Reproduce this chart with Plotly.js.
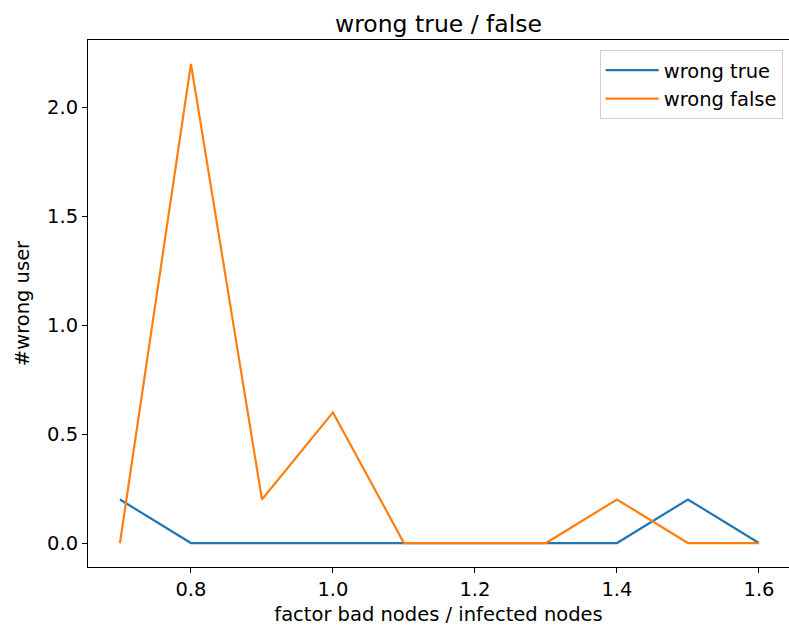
<!DOCTYPE html>
<html>
<head>
<meta charset="utf-8">
<script src="https://cdn.plot.ly/plotly-3.0.1.min.js"></script>
<style>html,body{margin:0;padding:0;background:#fff;}#chart{width:789px;height:634px;}</style>
</head>
<body>
<div id="chart"></div>
<script>
const factors = [0.7, 0.8, 0.9, 1.0, 1.1, 1.2, 1.3, 1.4, 1.5, 1.6];
const wrongTrue = [0.2, 0, 0, 0, 0, 0, 0, 0, 0.2, 0];
const wrongFalse = [0, 2.2, 0.2, 0.6, 0, 0, 0, 0.2, 0, 0];
const seriesNames = ["wrong true", "wrong false"];
const xTicks = [0.8, 1.0, 1.2, 1.4, 1.6];
const yTicks = [0.0, 0.5, 1.0, 1.5, 2.0];

const font = {family: "DejaVu Sans", size: 19.5, color: "#000"};
const traces = [
  {x: factors, y: wrongTrue, name: seriesNames[0], mode: "lines", line: {color: "#1f77b4", width: 2.2}},
  {x: factors, y: wrongFalse, name: seriesNames[1], mode: "lines", line: {color: "#ff7f0e", width: 2.2}}
];
const layout = {
  width: 789, height: 634,
  margin: {l: 88, r: 0, t: 40, b: 67, pad: 0},
  paper_bgcolor: "#fff", plot_bgcolor: "#fff",
  font: font,
  title: {text: "wrong true / false", font: {family: "DejaVu Sans", size: 23.5, color: "#000"}, x: 0.5, xref: "paper", xanchor: "center", y: 1, yref: "paper", yanchor: "bottom", pad: {b: 8}},
  showlegend: true,
  legend: {x: 0.991, xanchor: "right", y: 0.981, yanchor: "top", bgcolor: "rgba(255,255,255,0.8)", bordercolor: "#d0d0d0", borderwidth: 1, itemwidth: 53, font: {family: "DejaVu Sans", size: 19.5, color: "#000"}, tracegroupgap: 0},
  xaxis: {
    range: [0.655, 1.6423], tickvals: xTicks, ticktext: xTicks.map(v => v.toFixed(1)),
    ticks: "outside", ticklen: 5, tickwidth: 1, tickcolor: "#000",
    showline: true, linecolor: "#000", linewidth: 1, mirror: true,
    showgrid: false, zeroline: false,
    title: {text: "factor bad nodes / infected nodes", font: font, standoff: 6}
  },
  yaxis: {
    range: [-0.11, 2.31], tickvals: yTicks, ticktext: yTicks.map(v => v.toFixed(1)),
    ticks: "outside", ticklen: 5, tickwidth: 1, tickcolor: "#000",
    showline: true, linecolor: "#000", linewidth: 1, mirror: false,
    showgrid: false, zeroline: false,
    title: {text: "#wrong user", font: font, standoff: 12}
  }
};
Plotly.newPlot("chart", traces, layout, {displayModeBar: false, staticPlot: true});
</script>
</body>
</html>
